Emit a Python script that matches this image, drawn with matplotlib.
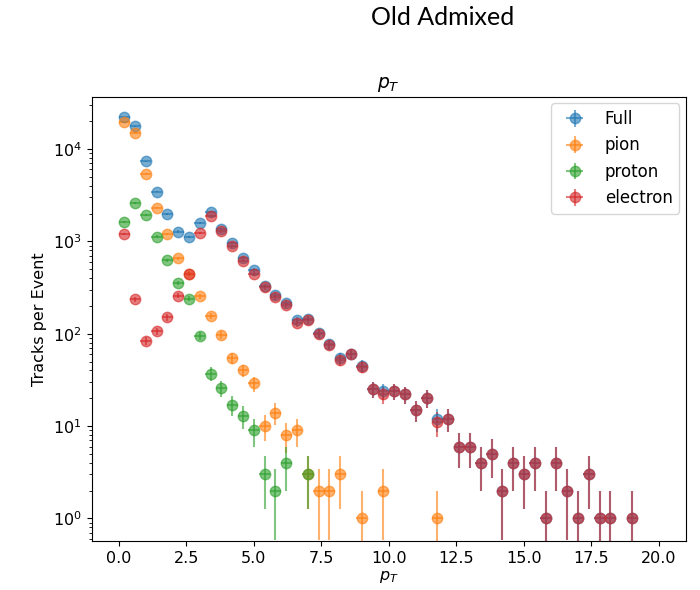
import numpy as np
import matplotlib
matplotlib.use("Agg")
import matplotlib.pyplot as plt

# bin centres (bin width 0.4 from 0 to 20)
pt_centers = [0.2, 0.6, 1.0, 1.4, 1.8, 2.2, 2.6, 3.0, 3.4, 3.8,
              4.2, 4.6, 5.0, 5.4, 5.8, 6.2, 6.6, 7.0, 7.4, 7.8,
              8.2, 8.6, 9.0, 9.4, 9.8, 10.2, 10.6, 11.0, 11.4, 11.8,
              12.2, 12.6, 13.0, 13.4, 13.8, 14.2, 14.6, 15.0, 15.4, 15.8,
              16.2, 16.6, 17.0, 17.4, 17.8, 18.2, 18.6, 19.0, 19.4, 19.8]
bin_halfwidth = 0.2

full = [22200, 17600, 7360, 3455, 1983, 1275, 1120, 1574, 2100, 1360,
        956, 668, 492, 330, 264, 215, 140, 145, 101, 77,
        55, 61, 45, 25, 24, 24, 22, 15, 20, 12,
        12, 6, 6, 4, 5, 2, 4, 3, 4, 1,
        4, 2, 1, 3, 1, 1, 0, 1, 0, 0]
pion = [19450, 15000, 5410, 2320, 1200, 658, 442, 253, 157, 98,
        55, 40, 29, 10, 14, 8, 9, 3, 2, 2,
        3, 0, 1, 0, 2, 0, 0, 0, 0, 1,
        0, 0, 0, 0, 0, 0, 0, 0, 0, 0,
        0, 0, 0, 0, 0, 0, 0, 0, 0, 0]
proton = [1613, 2608, 1932, 1127, 620, 353, 240, 95, 37, 26,
          17, 13, 9, 3, 2, 4, 0, 3, 0, 0,
          0, 0, 0, 0, 0, 0, 0, 0, 0, 0,
          0, 0, 0, 0, 0, 0, 0, 0, 0, 0,
          0, 0, 0, 0, 0, 0, 0, 0, 0, 0]
electron = [1197, 237, 84, 106, 151, 258, 442, 1225, 1890, 1280,
            880, 615, 445, 317, 248, 203, 130, 139, 99, 75,
            52, 61, 44, 25, 22, 24, 22, 15, 20, 11,
            12, 6, 6, 4, 5, 2, 4, 3, 4, 1,
            4, 2, 1, 3, 1, 1, 0, 1, 0, 0]

series = [("Full", full, "C0"), ("pion", pion, "C1"),
          ("proton", proton, "C2"), ("electron", electron, "C3")]

fig = plt.figure(figsize=(7.0, 5.9), dpi=100)
ax = fig.add_axes([0.131, 0.083, 0.849, 0.753])

x = np.array(pt_centers)
for label, vals, color in series:
    v = np.array(vals, dtype=float)
    m = v > 0
    ax.errorbar(x[m], v[m], yerr=np.sqrt(v[m]), xerr=bin_halfwidth,
                fmt='o', color=color, alpha=0.6, markersize=7.5,
                label=label)

ax.set_yscale('log')
ax.set_xlim(-1, 21)
ax.set_ylim(0.57, 36700)
ax.tick_params(labelsize=11.5)
ax.set_title('$p_T$', fontsize=13.5)
ax.set_xlabel('$p_T$', fontsize=11.5, labelpad=2)
ax.set_ylabel('Tracks per Event', fontsize=11.5)
ax.legend(loc='upper right', fontsize=12, borderaxespad=0.4)

fig.text(0.633, 0.971, 'Old Admixed', ha='center', va='center',
         fontsize=18, family=['Lato', 'DejaVu Sans'])

fig.savefig('out.png', dpi=100)
